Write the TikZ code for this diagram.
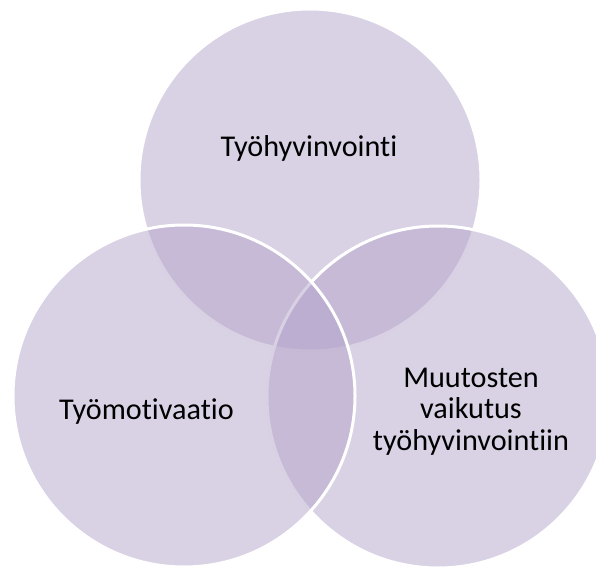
\documentclass[tikz,border=0pt]{standalone}
\usepackage{fontspec}
\setmainfont[Ligatures={NoCommon},RawFeature={-liga;-dlig;-clig}]{Carlito}
\definecolor{vennfill}{RGB}{179,163,201}
\begin{document}
\begin{tikzpicture}[x=1pt,y=-1pt,
  venn/.style={circle, minimum size=342pt, inner sep=0pt, fill=vennfill, fill opacity=0.5, draw=white, draw opacity=1, line width=3pt},
  lbl/.style={font=\fontsize{30.2}{31.5}\selectfont, text=black, align=center, inner sep=0pt}]
\useasboundingbox (0,0) rectangle (596,569);
\clip (0,0) rectangle (596,569);
\node[venn] (top) at (310,180) {};
\node[venn] (right) at (438,397) {};
\node[venn] (left) at (184,396) {};
\node[lbl, anchor=base] (t1) at (309,156.5) {Työhyvinvointi};
\node[lbl, anchor=base] (t2) at (146.5,419) {Työmotivaatio};
\node[lbl, anchor=base] (t3) at (471,450) {Muutosten\\vaikutus\\työhyvinvointiin};
\end{tikzpicture}
\end{document}
